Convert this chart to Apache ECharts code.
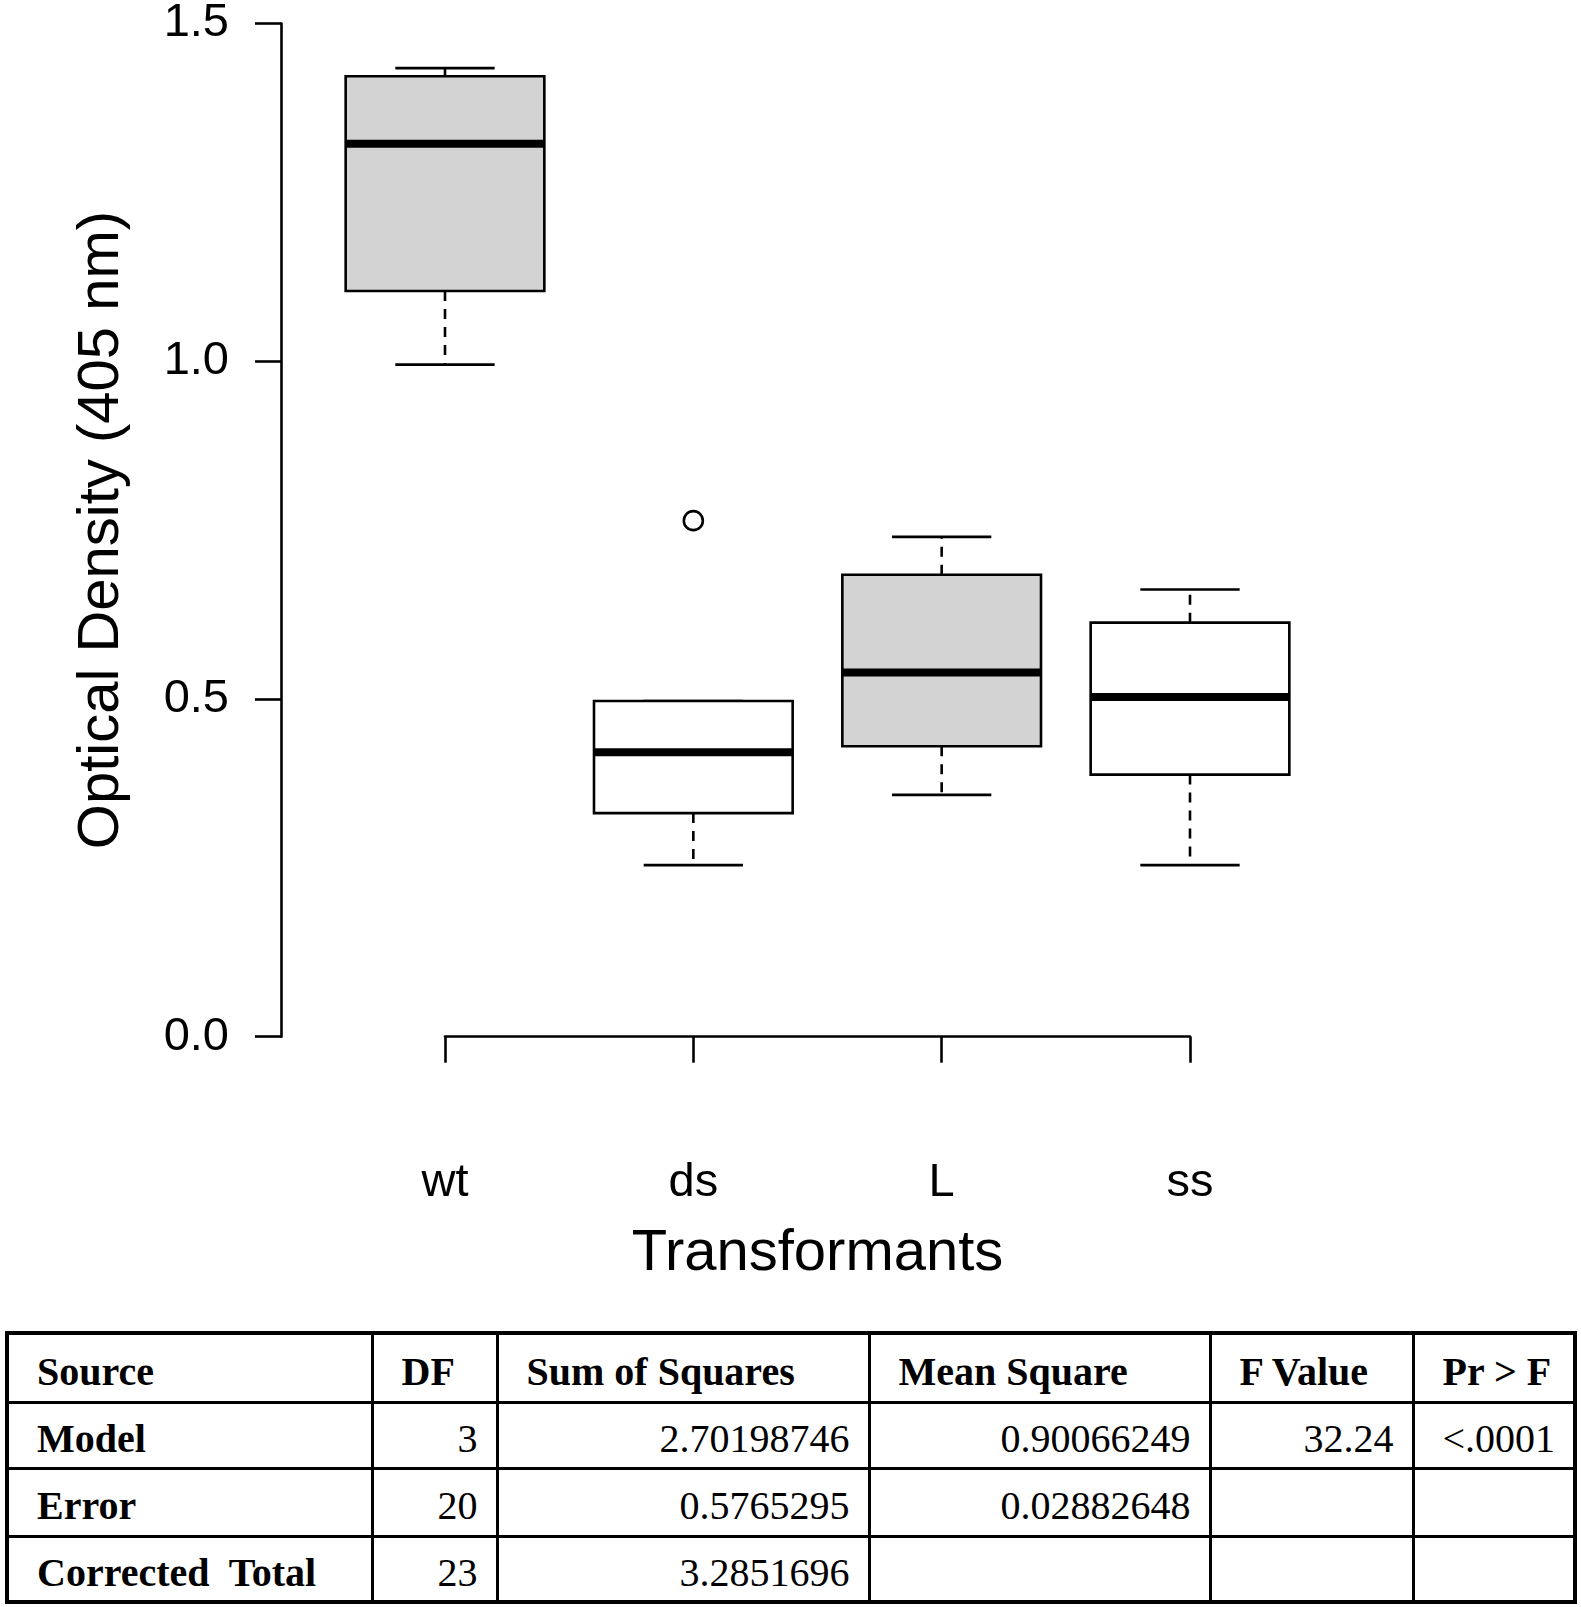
<!DOCTYPE html>
<html><head><meta charset="utf-8">
<script src="https://cdn.jsdelivr.net/npm/echarts@6/dist/echarts.min.js"></script>
<style>
html,body{margin:0;padding:0;background:#fff;width:1581px;height:1607px;overflow:hidden;}
#chart{position:absolute;left:0;top:0;width:1581px;height:1320px;}
#tbl{position:absolute;left:5px;top:1331px;width:1568px;border-collapse:collapse;table-layout:fixed;
 font-family:"Liberation Serif","Times New Roman",serif;font-size:40px;color:#000;border:4px solid #000;}
#tbl td{border:3px solid #000;padding:8px 18px 0 28px;white-space:pre;overflow:hidden;vertical-align:middle;line-height:1;}
#tbl td.b{font-weight:bold;text-align:left;}
#tbl td.n{text-align:right;}
</style></head>
<body>
<div id="chart"></div>
<table id="tbl"></table>
<script>
// ---- data ----
const categories = ['wt', 'ds', 'L', 'ss'];
const whiskerLow  = [0.995, 0.254, 0.358, 0.254];
const quart1      = [1.104, 0.331, 0.430, 0.388];
const medians     = [1.322, 0.421, 0.539, 0.503];
const quart3      = [1.422, 0.497, 0.684, 0.613];
const whiskerHigh = [1.434, 0.497, 0.740, 0.662];
const outlierCats = ['ds'];
const outlierVals = [0.764];
const yTickValues = [0.0, 0.5, 1.0, 1.5];
const tableHeader = ['Source', 'DF', 'Sum of Squares', 'Mean Square', 'F Value', 'Pr > F'];
const rowModel = ['Model', '3', '2.70198746', '0.90066249', '32.24', '<.0001'];
const rowError = ['Error', '20', '0.5765295', '0.02882648', '', ''];
const rowTotal = ['Corrected  Total', '23', '3.2851696', '', '', ''];

// ---- styles (kept apart from data) ----
const boxFills = ['#d3d3d3', '#ffffff', '#d3d3d3', '#ffffff'];
const colWidths = [365, 125, 372, 341, 203, 162];
const rowHeights = [69, 66, 68, 66];

const boxData = categories.map((c, i) => [i, whiskerLow[i], quart1[i], medians[i], quart3[i], whiskerHigh[i]]);
const outlierData = outlierCats.map((c, i) => [categories.indexOf(c), outlierVals[i]]);

const chart = echarts.init(document.getElementById('chart'), null, {renderer: 'canvas'});
const lw = 2.6;
const FONT = '"Liberation Sans", Arial, sans-serif';
chart.setOption({
  animation: false,
  backgroundColor: '#fff',
  textStyle: {fontFamily: FONT, color: '#000'},
  grid: {left: 445, width: 745, top: 19.3, height: 1017.4, containLabel: false},
  xAxis: {
    type: 'category', data: categories, boundaryGap: false, offset: 41,
    axisLine: {show: true, lineStyle: {color: '#000', width: lw}},
    axisTick: {show: true, length: 26, lineStyle: {color: '#000', width: lw}},
    axisLabel: {fontSize: 47, color: '#000', margin: 82, fontFamily: FONT},
    splitLine: {show: false},
    name: 'Transformants', nameLocation: 'middle', nameGap: 147,
    nameTextStyle: {fontSize: 58, color: '#000', fontFamily: FONT}
  },
  yAxis: {
    type: 'value', min: yTickValues[0], max: yTickValues[yTickValues.length - 1],
    interval: yTickValues[1] - yTickValues[0], offset: 164,
    axisLine: {show: true, lineStyle: {color: '#000', width: lw}},
    axisTick: {show: true, length: 26, lineStyle: {color: '#000', width: lw}},
    axisLabel: {fontSize: 47, color: '#000', margin: 52, formatter: v => v.toFixed(1), fontFamily: FONT},
    splitLine: {show: false},
    name: 'Optical Density (405 nm)', nameLocation: 'middle', nameGap: 150,
    nameTextStyle: {fontSize: 58, color: '#000', fontFamily: FONT}
  },
  series: [{
    type: 'custom',
    data: boxData,
    encode: {x: 0, y: [1, 2, 3, 4, 5]},
    clip: false,
    renderItem: function (params, api) {
      const x = api.value(0);
      const pLo = api.coord([x, api.value(1)]);
      const pQ1 = api.coord([x, api.value(2)]);
      const pMed = api.coord([x, api.value(3)]);
      const pQ3 = api.coord([x, api.value(4)]);
      const pHi = api.coord([x, api.value(5)]);
      const band = api.size([1, 0])[0];
      const bw = band * 0.8, cw = band * 0.4;
      const cx = pMed[0];
      const dashStyle = {stroke: '#000', lineWidth: lw, lineDash: [10, 8]};
      const solid = {stroke: '#000', lineWidth: lw};
      return {type: 'group', children: [
        {type: 'line', shape: {x1: cx, y1: pQ3[1], x2: cx, y2: pHi[1]}, style: dashStyle},
        {type: 'line', shape: {x1: cx, y1: pQ1[1], x2: cx, y2: pLo[1]}, style: dashStyle},
        {type: 'line', shape: {x1: cx - cw / 2, y1: pHi[1], x2: cx + cw / 2, y2: pHi[1]}, style: solid},
        {type: 'line', shape: {x1: cx - cw / 2, y1: pLo[1], x2: cx + cw / 2, y2: pLo[1]}, style: solid},
        {type: 'rect', shape: {x: cx - bw / 2, y: pQ3[1], width: bw, height: pQ1[1] - pQ3[1]},
          style: {fill: boxFills[params.dataIndex], stroke: '#000', lineWidth: lw}},
        {type: 'line', shape: {x1: cx - bw / 2, y1: pMed[1], x2: cx + bw / 2, y2: pMed[1]},
          style: {stroke: '#000', lineWidth: 8}}
      ]};
    }
  }, {
    type: 'scatter',
    data: outlierData,
    symbol: 'circle', symbolSize: 19,
    itemStyle: {color: '#fff', borderColor: '#000', borderWidth: lw, opacity: 1}
  }]
});

// ---- table ----
const tbl = document.getElementById('tbl');
const cg = document.createElement('colgroup');
colWidths.forEach(w => { const c = document.createElement('col'); c.style.width = w + 'px'; cg.appendChild(c); });
tbl.appendChild(cg);
[tableHeader, rowModel, rowError, rowTotal].forEach((row, ri) => {
  const tr = document.createElement('tr');
  tr.style.height = rowHeights[ri] + 'px';
  row.forEach((cell, ci) => {
    const td = document.createElement('td');
    td.textContent = cell;
    td.className = (ri === 0 || ci === 0) ? 'b' : 'n';
    if (ri > 0 && ci === 5) td.style.paddingRight = '27px';
    tr.appendChild(td);
  });
  tbl.appendChild(tr);
});
</script>
</body></html>
